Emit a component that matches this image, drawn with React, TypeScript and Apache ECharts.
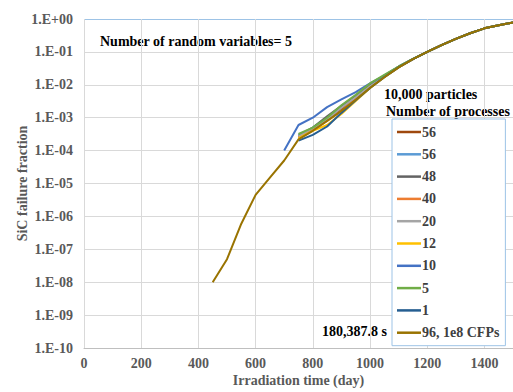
import React, { useEffect, useRef } from "react";
import * as echarts from "echarts";

// Irradiation days
const mainDays = [450, 500, 550, 600, 650, 700, 750, 800, 850, 900, 950, 1000, 1050, 1100, 1150, 1200, 1250, 1300, 1350, 1400, 1450, 1500];
const procDays = [750, 800, 850, 900, 950, 1000, 1050, 1100, 1150, 1200, 1250, 1300, 1350, 1400, 1450, 1500];
const proc10Days = [700, 750, 800, 850, 900, 950, 1000, 1050, 1100, 1150, 1200, 1250, 1300, 1350, 1400, 1450, 1500];

// SiC failure fraction values
const main96 = [1e-8, 5e-8, 6e-7, 4.5e-6, 1.5e-5, 5e-5, 2.2e-4, 4e-4, 8e-4, 1.6e-3, 3.5e-3, 8e-3, 1.7e-2, 3.4e-2, 6e-2, 0.1, 0.16, 0.25, 0.37, 0.52, 0.65, 0.78];
const p56a = [2.5e-4, 4.5e-4, 9e-4, 1.8e-3, 4e-3, 9e-3, 1.8e-2, 3.5e-2, 6e-2, 0.1, 0.16, 0.25, 0.37, 0.52, 0.65, 0.78];
const p56b = [3e-4, 5e-4, 1e-3, 2.2e-3, 4.5e-3, 1e-2, 1.9e-2, 3.6e-2, 6.1e-2, 0.1, 0.16, 0.25, 0.37, 0.52, 0.65, 0.78];
const p48 = [2.8e-4, 5e-4, 1.1e-3, 2.3e-3, 4.6e-3, 1e-2, 1.9e-2, 3.5e-2, 6e-2, 0.1, 0.16, 0.25, 0.37, 0.52, 0.65, 0.78];
const p40 = [2.5e-4, 4.2e-4, 8e-4, 1.6e-3, 3.8e-3, 8.5e-3, 1.75e-2, 3.4e-2, 6e-2, 0.1, 0.16, 0.25, 0.37, 0.52, 0.65, 0.78];
const p20 = [2.7e-4, 4.8e-4, 9e-4, 2e-3, 4.2e-3, 9e-3, 1.8e-2, 3.5e-2, 6e-2, 0.1, 0.16, 0.25, 0.37, 0.52, 0.65, 0.78];
const p12 = [2.4e-4, 4e-4, 6e-4, 1.3e-3, 3.2e-3, 8e-3, 1.7e-2, 3.4e-2, 6e-2, 0.1, 0.16, 0.25, 0.37, 0.52, 0.65, 0.78];
const p10 = [1e-4, 6e-4, 1e-3, 2.1e-3, 3.6e-3, 6e-3, 1.1e-2, 1.9e-2, 3.5e-2, 6e-2, 0.1, 0.16, 0.25, 0.37, 0.52, 0.65, 0.78];
const p5 = [3.2e-4, 5e-4, 1e-3, 2.4e-3, 5e-3, 1.1e-2, 2e-2, 3.6e-2, 6.1e-2, 0.1, 0.16, 0.25, 0.37, 0.52, 0.65, 0.78];
const p1 = [2e-4, 3e-4, 5.4e-4, 1.4e-3, 3.4e-3, 8e-3, 1.7e-2, 3.4e-2, 6e-2, 0.1, 0.16, 0.25, 0.37, 0.52, 0.65, 0.78];

const seriesNames = ["56", "56 ", "48", "40", "20", "12", "10", "5", "1", "96, 1e8 CFPs"];
const seriesColors = ["#9E480E", "#5B9BD5", "#636363", "#ED7D31", "#A5A5A5", "#FFC000", "#4472C4", "#70AD47", "#255E91", "#997300"];
const seriesX = [procDays, procDays, procDays, procDays, procDays, procDays, proc10Days, procDays, procDays, mainDays];
const seriesY = [p56a, p56b, p48, p40, p20, p12, p10, p5, p1, main96];

const FONT = "Liberation Serif";

export default function App() {
  const ref = useRef<HTMLDivElement>(null);
  useEffect(() => {
    const chart = echarts.init(ref.current!, null, { renderer: "svg" });
    const gridColors = ["#d9d9d9", "#d9d9d9", "#d9d9d9", "#d9d9d9", "#d9d9d9", "#d9d9d9", "#d9d9d9", "#d9d9d9", "#d9d9d9", "#d9d9d9", "#9DC3E6"];
    chart.setOption({
      animation: false,
      backgroundColor: "#ffffff",
      textStyle: { fontFamily: FONT },
      grid: { left: 84, right: -2, top: 19, bottom: 43, containLabel: false },
      xAxis: {
        type: "value",
        min: 0,
        max: 1500,
        interval: 200,
        name: "Irradiation time (day)",
        nameLocation: "middle",
        nameGap: 25,
        nameMoveOverlap: false,
        nameTextStyle: { fontFamily: FONT, fontWeight: "bold", fontSize: 14, color: "#595959" },
        axisLine: { show: true, lineStyle: { color: "#bfbfbf", width: 1 } },
        axisTick: { show: false },
        axisLabel: {
          showMaxLabel: false,
          fontFamily: FONT,
          fontWeight: "bold",
          fontSize: 14,
          color: "#595959",
          margin: 8,
          formatter: (v: number) => String(v),
        },
        splitLine: { show: true, lineStyle: { color: "#d9d9d9", width: 1 } },
      },
      yAxis: {
        type: "log",
        logBase: 10,
        min: 1e-10,
        max: 1,
        interval: 1,
        name: "SiC failure fraction",
        nameLocation: "middle",
        nameGap: 55,
        nameMoveOverlap: false,
        nameRotate: 90,
        nameTextStyle: { fontFamily: FONT, fontWeight: "bold", fontSize: 14, color: "#595959" },
        axisLine: { show: false },
        axisTick: { show: false },
        axisLabel: {
          fontFamily: FONT,
          fontWeight: "bold",
          fontSize: 14,
          color: "#595959",
          margin: 11,
          formatter: (v: number) => {
            const e = Math.round(Math.log10(v));
            const s = e < 0 ? "-" : "+";
            const a = Math.abs(e);
            return "1.E" + s + (a < 10 ? "0" + a : String(a));
          },
        },
        splitLine: { show: true, lineStyle: { color: gridColors, width: 1 } },
      },
      legend: {
        orient: "vertical",
        left: 392,
        top: 119,
        data: seriesNames,
        icon: "rect",
        itemWidth: 24,
        itemHeight: 2.5,
        itemGap: 8.3,
        padding: [6, 6, 6, 5],
        borderColor: "#9DC3E6",
        borderWidth: 1,
        backgroundColor: "#ffffff",
        formatter: (n: string) => n.trim(),
        textStyle: { fontFamily: FONT, fontWeight: "bold", fontSize: 14, color: "#404040", lineHeight: 14, padding: [0, 0, 0, -4] },
      },
      graphic: [
        { type: "text", x: 100, y: 41, style: { text: "Number of random variables= 5", font: "bold 14px " + FONT, fill: "#000", textAlign: "left", textVerticalAlign: "middle" } },
        { type: "text", x: 384, y: 94, style: { text: "10,000 particles", font: "bold 14px " + FONT, fill: "#000", textAlign: "left", textVerticalAlign: "middle" } },
        { type: "text", x: 386, y: 111, style: { text: "Number of processes", font: "bold 14px " + FONT, fill: "#000", textAlign: "left", textVerticalAlign: "middle" } },
        { type: "text", x: 387, y: 331, style: { text: "180,387.8 s", font: "bold 14px " + FONT, fill: "#000", textAlign: "right", textVerticalAlign: "middle" } },
      ],
      series: seriesNames.map((name, i) => ({
        name,
        type: "line",
        showSymbol: false,
        symbol: "none",
        data: seriesX[i].map((d, j) => [d, seriesY[i][j]]),
        lineStyle: { color: seriesColors[i], width: 2 },
        itemStyle: { color: seriesColors[i] },
        z: 2 + i,
      })),
    });
    return () => chart.dispose();
  }, []);
  return <div ref={ref} style={{ position: "fixed", left: 0, top: 0, width: 513, height: 392 }} />;
}
